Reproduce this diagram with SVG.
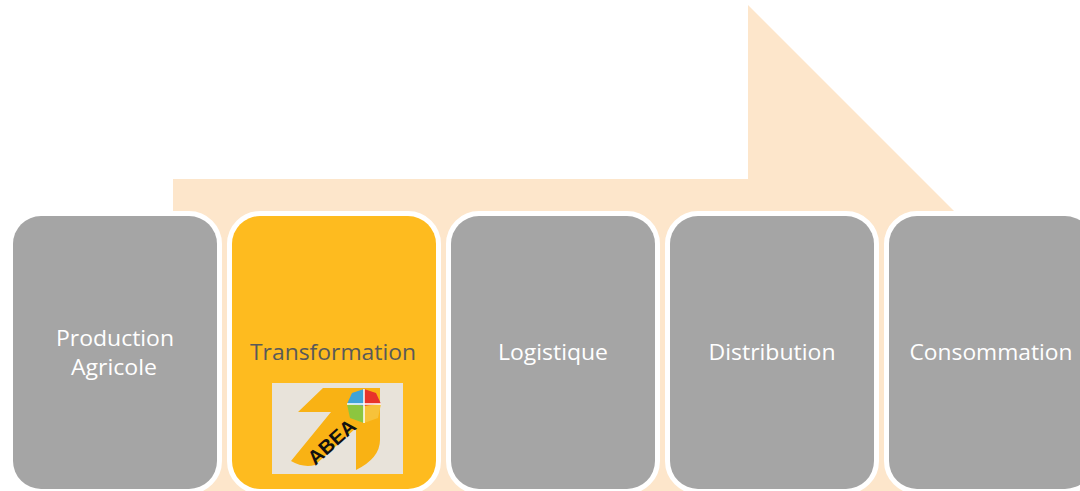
<svg xmlns="http://www.w3.org/2000/svg" width="1080" height="491" viewBox="0 0 1080 491">
  <style>
    .box { stroke: #FFFFFF; stroke-width: 10; paint-order: stroke; }
    .gray { fill: #A5A5A5; }
    .gold { fill: #FEBB1F; }
    .lbl { font-family: "Open Sans", "Noto Sans", "Liberation Sans", sans-serif; font-size: 22px; text-anchor: middle; }
    .w { fill: #FFFFFF; }
    .dk { fill: #595959; }
  </style>
  <rect x="0" y="0" width="1080" height="491" fill="#FFFFFF"/>
  <g id="connectors">
    <polygon points="173,179 748,179 748,5 1163,420 1163,600 173,600" fill="#FDE6CB"/>
  </g>
  <g id="node-production">
    <rect class="box gray" x="13" y="216" width="204" height="273" rx="28" ry="28"/>
    <text class="lbl w" x="115" y="346" textLength="118" lengthAdjust="spacingAndGlyphs">Production</text>
    <text class="lbl w" x="114" y="375" textLength="86" lengthAdjust="spacingAndGlyphs">Agricole</text>
  </g>
  <g id="node-transformation">
    <rect class="box gold" x="232" y="216" width="204" height="273" rx="28" ry="28"/>
    <text class="lbl dk" x="333" y="360" textLength="166" lengthAdjust="spacingAndGlyphs">Transformation</text>
    <g id="logo-abea">
      <rect x="272" y="383" width="131" height="91" fill="#E8E3DA"/>
      <path d="M298,412 L323,388 L380,388 L380,440 Q380,458 356,470 L356,428 L315,465 Q303,468 291,461 L331,412 Z" fill="#F9B214"/>
      <text x="331" y="449" transform="rotate(-42 331 441)" font-family="'Liberation Sans', Arial, sans-serif" font-weight="bold" font-size="20" text-anchor="middle" fill="#111111">ABEA</text>
      <g transform="translate(364 406)">
        <path d="M0,0 L0,-17 L-12,-13 L-17,-2 Z" fill="#3FA3D8"/>
        <path d="M0,0 L0,-17 L12,-13 L17,-2 Z" fill="#E8332A"/>
        <path d="M0,0 L-17,-2 L-14,12 L0,17 Z" fill="#8CC63F"/>
        <path d="M0,0 L17,-2 L14,12 L0,17 Z" fill="#F7C23A"/>
        <path d="M0,-17 L0,17 M-17,-2 L17,-2" stroke="#FFFFFF" stroke-width="1.5" fill="none"/>
      </g>
    </g>
  </g>
  <g id="node-logistique">
    <rect class="box gray" x="451" y="216" width="204" height="273" rx="28" ry="28"/>
    <text class="lbl w" x="553" y="360" textLength="110" lengthAdjust="spacingAndGlyphs">Logistique</text>
  </g>
  <g id="node-distribution">
    <rect class="box gray" x="670" y="216" width="204" height="273" rx="28" ry="28"/>
    <text class="lbl w" x="772" y="360" textLength="127" lengthAdjust="spacingAndGlyphs">Distribution</text>
  </g>
  <g id="node-consommation">
    <rect class="box gray" x="889" y="216" width="204" height="273" rx="28" ry="28"/>
    <text class="lbl w" x="991" y="360" textLength="163" lengthAdjust="spacingAndGlyphs">Consommation</text>
  </g>
</svg>
